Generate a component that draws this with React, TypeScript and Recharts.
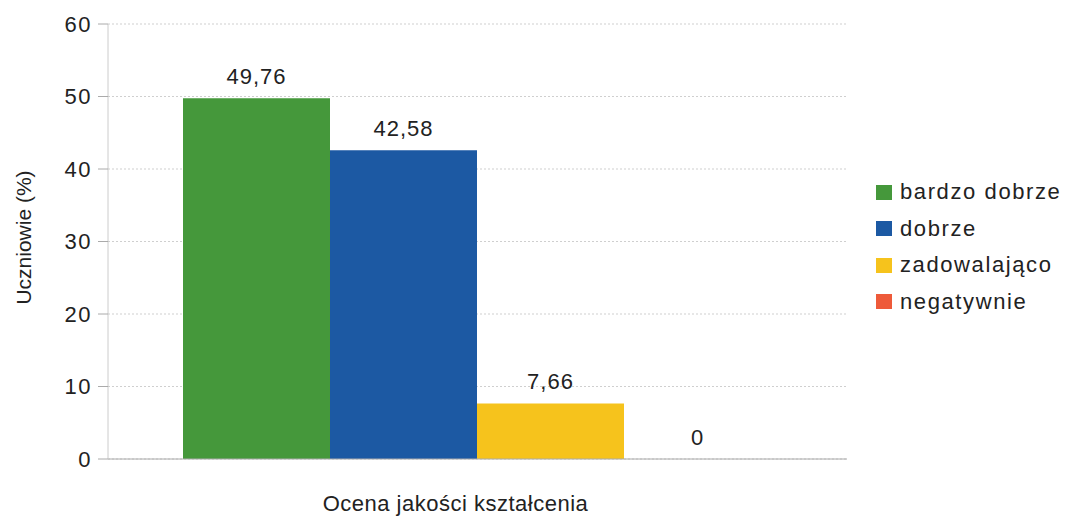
import { BarChart, Bar, XAxis, YAxis, CartesianGrid, Legend, LabelList } from "recharts";

const categories = ["Ocena jakości kształcenia"];
const seriesNames = ["bardzo dobrze", "dobrze", "zadowalająco", "negatywnie"];
const seriesValues = [49.76, 42.58, 7.66, 0];
const seriesColors = ["#45983b", "#1c59a3", "#f6c31c", "#ee5a3a"];
const yTicks = [0, 10, 20, 30, 40, 50, 60];

const FONT = "'Liberation Sans', Arial, sans-serif";

const data = categories.map((cat) => {
  const row: Record<string, string | number> = { category: cat };
  seriesNames.forEach((name, i) => {
    row[name] = seriesValues[i];
  });
  return row;
});

const fmt = (v: number) => (v === 0 ? "0" : v.toFixed(2).replace(".", ","));

function LegendBox() {
  return (
    <div style={{ fontFamily: FONT, fontSize: 22, letterSpacing: 1.6, color: "#222" }}>
      {seriesNames.map((name, i) => (
        <div key={name} style={{ display: "flex", alignItems: "center", height: 36.5 }}>
          <span
            style={{
              width: 16, height: 15, background: seriesColors[i],
              display: "inline-block", marginRight: 8,
            }}
          />
          {name}
        </div>
      ))}
    </div>
  );
}

export default function App() {
  return (
    <BarChart
      width={1061}
      height={509}
      data={data}
      margin={{ top: 16, right: 22, left: 40, bottom: 0 }}
      barCategoryGap={75}
      barGap={0}
    >
      <CartesianGrid stroke="#cfcfcf" strokeDasharray="2 2" vertical={false} />
      <XAxis
        dataKey="category"
        height={58}
        tick={false}
        axisLine={{ stroke: "#aaa" }}
        tickLine={false}
        label={{
          value: categories[0], position: "insideBottom", offset: 6, dx: -22,
          fill: "#222", fontFamily: FONT, fontSize: 22, letterSpacing: 0.5,
        }}
      />
      <YAxis
        width={60}
        domain={[0, 60]}
        ticks={yTicks}
        interval={0}
        tick={{ fill: "#222", fontFamily: FONT, fontSize: 22, letterSpacing: 1.5 }}
        tickLine={{ stroke: "#aaa" }}
        tickSize={10}
        tickMargin={6}
        axisLine={{ stroke: "#ccc" }}
        label={{
          value: "Uczniowie (%)", angle: -90, position: "insideLeft", offset: -24, dy: -4,
          fill: "#222", fontFamily: FONT, fontSize: 21, style: { textAnchor: "middle" },
        }}
      />
      <YAxis
        yAxisId="frame"
        orientation="right"
        width={0}
        domain={[0, 60]}
        tick={false}
        tickLine={false}
        axisLine={{ stroke: "#999" }}
      />
      <Legend
        layout="vertical"
        align="right"
        verticalAlign="top"
        content={() => <LegendBox />}
        wrapperStyle={{ left: 868, top: 166, width: 200 }}
      />
      {seriesNames.map((name, i) => (
        <Bar
          key={name}
          dataKey={name}
          fill={seriesColors[i]}
          minPointSize={0.01}
          isAnimationActive={false}
        >
          <LabelList
            dataKey={name}
            position="top"
            offset={14}
            formatter={(v: number) => fmt(v)}
            style={{ fill: "#222", fontFamily: FONT, fontSize: 22, letterSpacing: 1 }}
          />
        </Bar>
      ))}
    </BarChart>
  );
}
